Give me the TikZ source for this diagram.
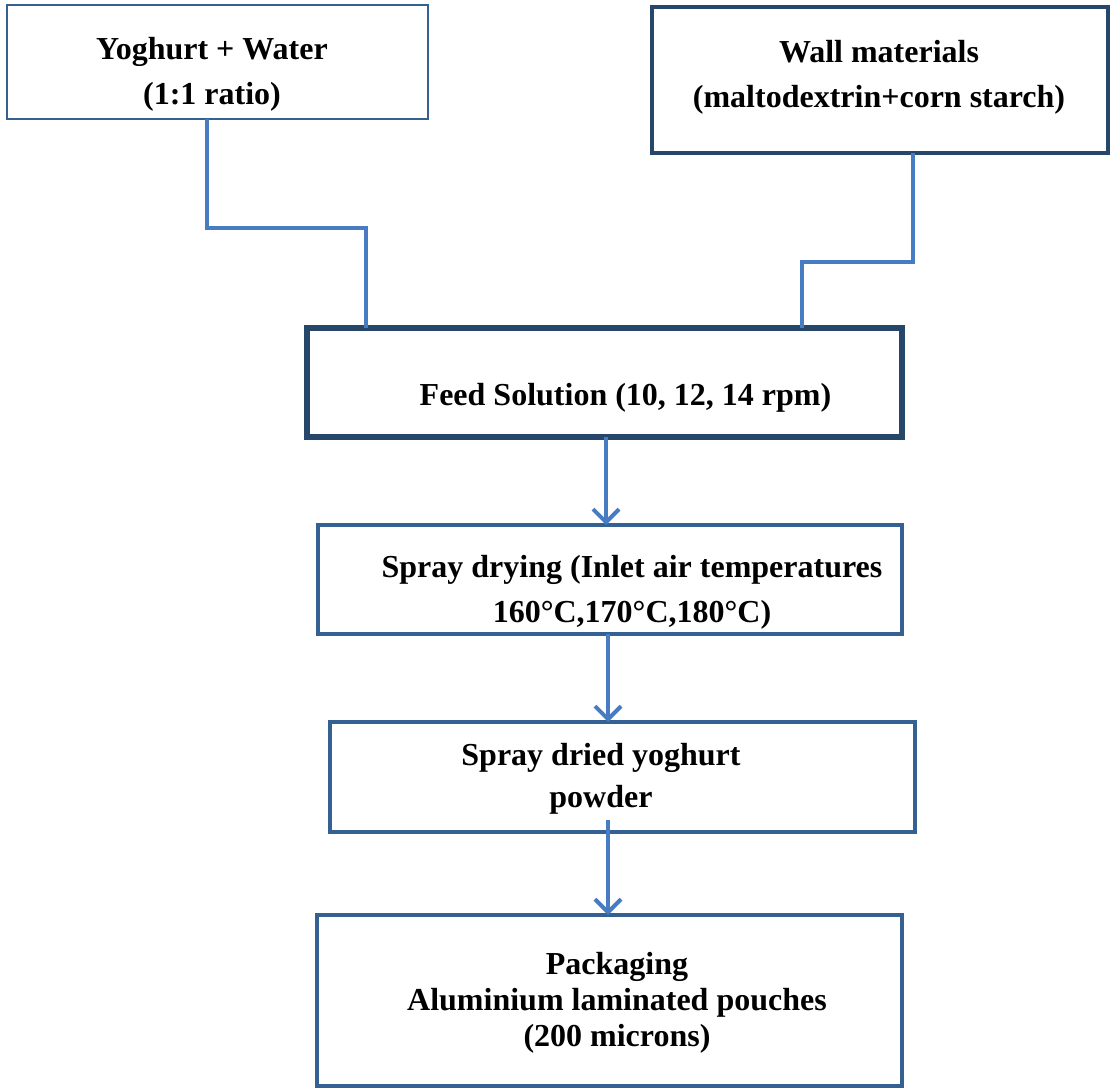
\documentclass[tikz,border=0pt]{standalone}
\usepackage{fontspec}
\setmainfont{Liberation Serif}
\usetikzlibrary{arrows.meta}
\definecolor{boxblue}{RGB}{52,96,146}
\definecolor{darkbox}{RGB}{38,70,106}
\definecolor{connblue}{RGB}{72,124,194}
\begin{document}
\begin{tikzpicture}[x=1pt,y=-1pt,
  box/.style={draw=boxblue, line width=4pt, rectangle, inner sep=0pt, outer sep=0pt},
  lbl/.style={font=\bfseries\fontsize{32}{45}\selectfont, align=center, inner sep=0pt},
  conn/.style={draw=connblue, line width=3.8pt},
  arr/.style={conn, -{Straight Barb[length=13pt,width=26pt,line width=4pt]}}
]
\useasboundingbox (0,0) rectangle (1110,1089);
% boxes
\node[box, line width=2.5pt, minimum width=421pt, minimum height=114pt] (b1) at (217.5,62) {};
\node[box, draw=darkbox, line width=4.5pt, minimum width=456pt, minimum height=146pt] (b2) at (880,80) {};
\node[box, draw=darkbox, line width=5.5pt, minimum width=595pt, minimum height=109pt] (feed) at (604.5,382.5) {};
\node[box, minimum width=584pt, minimum height=109pt] (spray) at (610,579.5) {};
\node[box, minimum width=585pt, minimum height=110pt] (powder) at (622.5,777) {};
\node[box, minimum width=585pt, minimum height=171pt] (pack) at (609.5,1000.5) {};
% texts
\node[lbl] (t1) at (212,74.5) {Yoghurt + Water\\(1:1 ratio)};
\node[lbl] (t2) at (879,77.5) {Wall materials\\(maltodextrin+corn starch)};
\node[lbl] (t3) at (625.5,398) {Feed Solution (10, 12, 14 rpm)};
\node[lbl] (t4) at (632,592.5) {Spray drying (Inlet air temperatures\\160°C,170°C,180°C)};
\node[lbl, font=\bfseries\fontsize{32}{42}\selectfont] (t5) at (601,779) {Spray dried yoghurt\\powder};
\node[lbl, font=\bfseries\fontsize{32}{36}\selectfont] (t6) at (617,1003) {Packaging\\Aluminium laminated pouches\\(200 microns)};
% connectors
\coordinate (j1) at (366,228);
\coordinate (j2) at (802,262);
\draw[conn] ([xshift=-10.5pt]b1.south) |- (j1) -- (j1 |- feed.north);
\draw[conn] ([xshift=33pt]b2.south) |- (j2) -- (j2 |- feed.north);
\draw[arr] ([xshift=1.5pt]feed.south) -- ([xshift=1.5pt]feed.south |- spray.north);
\draw[arr] ([xshift=-2pt]spray.south) -- ([xshift=-2pt]spray.south |- powder.north);
\draw[arr] ([xshift=-14.5pt,yshift=12pt]powder.south) -- ([xshift=-14.5pt]powder.south |- pack.north);
\end{tikzpicture}
\end{document}
